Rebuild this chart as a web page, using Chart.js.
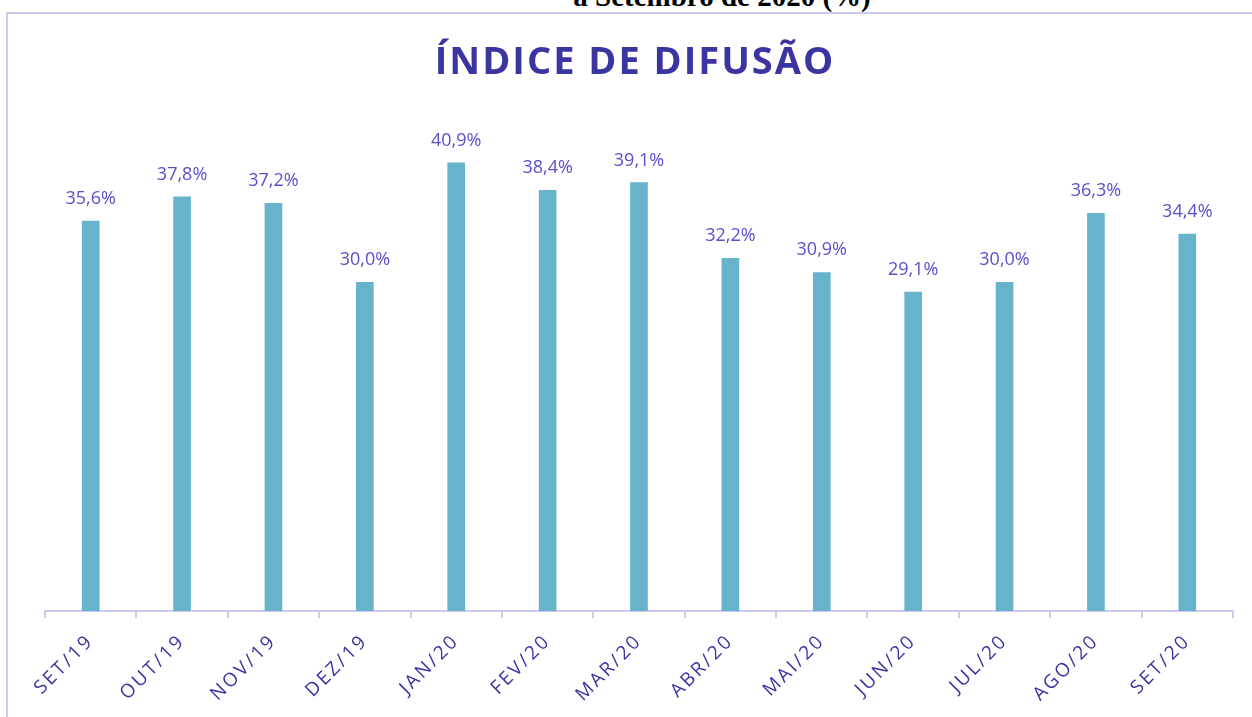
<!DOCTYPE html>
<html>
<head>
<meta charset="utf-8">
<script src="https://cdn.jsdelivr.net/npm/chart.js@4"></script>
<style>
  html, body { margin: 0; padding: 0; background: #fff; overflow: hidden; }
  body { width: 1252px; height: 717px; position: relative; }
  #caption {
    position: absolute; left: 522px; width: 400px; top: -20px;
    font: bold 29px "Liberation Serif", serif; color: #000;
    text-align: center; white-space: nowrap; line-height: 32px;
  }
  #frame {
    position: absolute; left: 6px; top: 12px; width: 1260px; height: 720px;
    border: 2px solid #cdc9ef; box-sizing: border-box;
  }
  #wrap { position: absolute; left: 0; top: 0; width: 1252px; height: 717px; }
</style>
</head>
<body>
<div id="caption">a Setembro de 2020 (%)</div>
<div id="frame"></div>
<div id="wrap"><canvas id="myChart"></canvas></div>
<script>
document.addEventListener('DOMContentLoaded', function () {

    const months = ['SET/19', 'OUT/19', 'NOV/19', 'DEZ/19', 'JAN/20', 'FEV/20', 'MAR/20',
                    'ABR/20', 'MAI/20', 'JUN/20', 'JUL/20', 'AGO/20', 'SET/20'];
    const diffusion = [35.6, 37.8, 37.2, 30.0, 40.9, 38.4, 39.1, 32.2, 30.9, 29.1, 30.0, 36.3, 34.4];
    const chartTitle = 'ÍNDICE DE DIFUSÃO';

    // title with letter spacing + value labels above bars
    const decor = {
        id: 'decor',
        beforeLayout(chart) {
            // spaced-out axis labels, like the original
            chart.ctx.letterSpacing = '2.5px';
        },
        afterDraw(chart) {
            const c = chart.ctx;
            c.save();
            c.letterSpacing = '2px';
            c.font = 'bold 38px "Open Sans"';
            c.fillStyle = '#3b35a1';
            c.textAlign = 'center';
            c.textBaseline = 'alphabetic';
            c.fillText(chartTitle, 635, 74);

            c.letterSpacing = '0px';
            c.font = '18px "Open Sans"';
            c.fillStyle = '#5a4fcb';
            chart.getDatasetMeta(0).data.forEach(function (bar, i) {
                const txt = diffusion[i].toFixed(1).replace('.', ',') + '%';
                c.fillText(txt, bar.x, bar.y - 17);
            });
            c.restore();
        }
    };

    const ctx = document.getElementById('myChart').getContext('2d');
    new Chart(ctx, {
        type: 'bar',
        data: {
            labels: months,
            datasets: [{
                label: 'Índice de difusão',
                data: diffusion,
                backgroundColor: '#67b3cb',
                barThickness: 17
            }]
        },
        options: {
            responsive: true,
            maintainAspectRatio: false,
            animation: false,
            layout: {
                padding: { top: 118, left: 45, right: 19, bottom: 0 }
            },
            plugins: {
                legend: { display: false },
                tooltip: { enabled: false }
            },
            scales: {
                y: {
                    display: false,
                    min: 0,
                    max: 45
                },
                x: {
                    afterFit: function (scale) { scale.height = 106; },
                    border: { color: '#cdc9ef', width: 2 },
                    grid: {
                        drawOnChartArea: false,
                        color: '#cdc9ef',
                        lineWidth: 2,
                        tickLength: 7
                    },
                    ticks: {
                        color: '#3a35a0',
                        font: { family: 'Open Sans', size: 19 },
                        maxRotation: 45,
                        minRotation: 45,
                        padding: 12
                    }
                }
            }
        },
        plugins: [decor]
    });

});
</script>
</body>
</html>
